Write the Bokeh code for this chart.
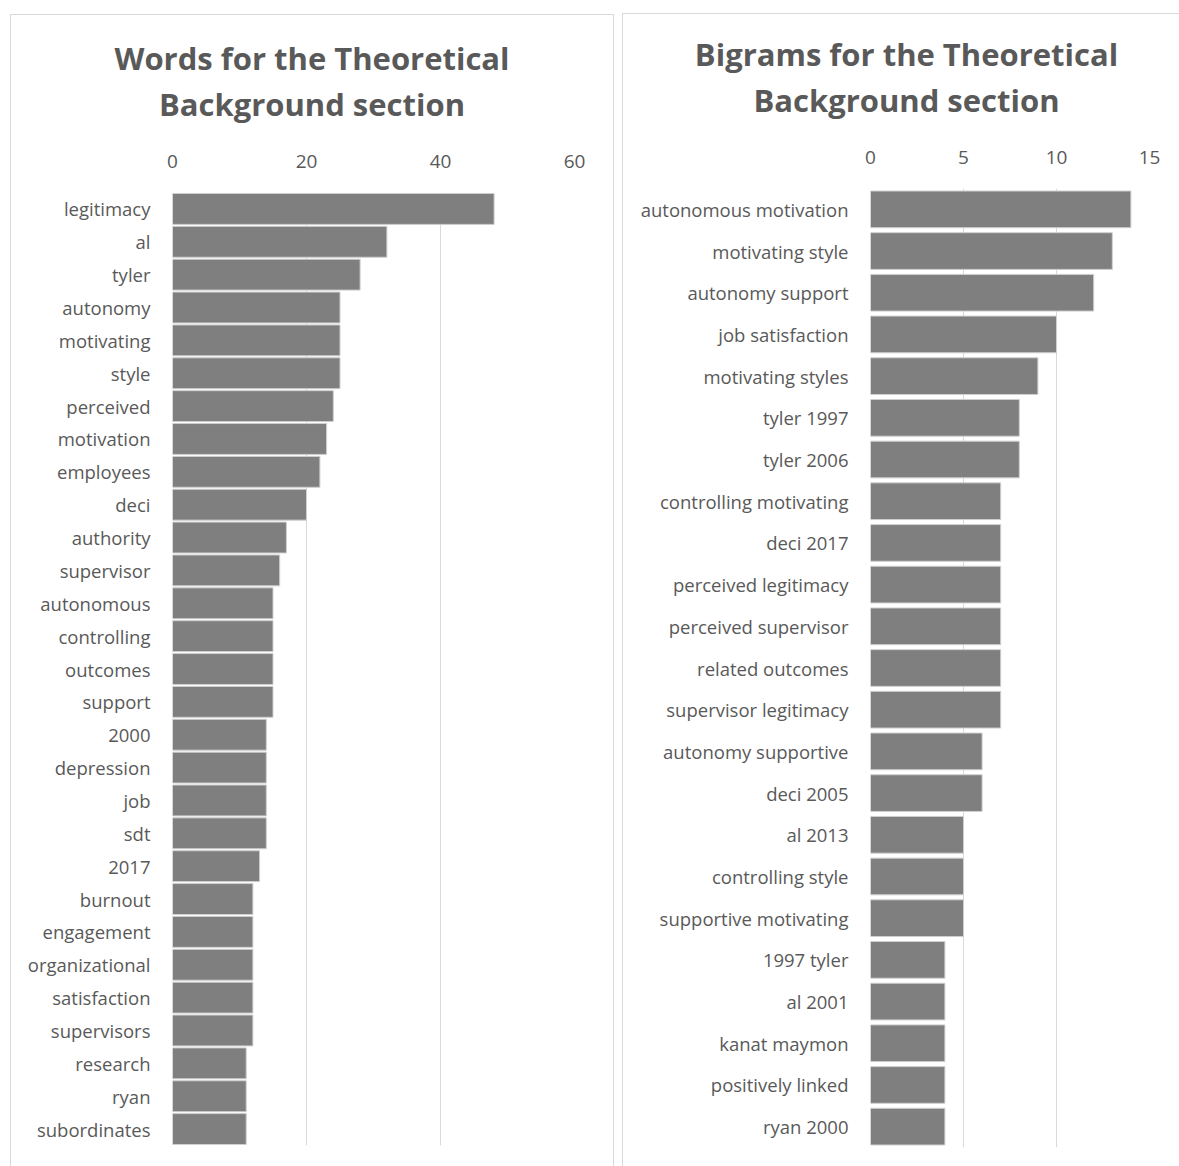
from bokeh.plotting import figure
from bokeh.layouts import row, column
from bokeh.models import FactorRange, Range1d, FixedTicker, Div
from bokeh.embed import file_html
from bokeh.resources import INLINE

# ---------------- data ----------------
word_labels = ["legitimacy", "al", "tyler", "autonomy", "motivating", "style", "perceived",
               "motivation", "employees", "deci", "authority", "supervisor", "autonomous",
               "controlling", "outcomes", "support", "2000", "depression", "job", "sdt", "2017",
               "burnout", "engagement", "organizational", "satisfaction", "supervisors",
               "research", "ryan", "subordinates"]
word_counts = [48, 32, 28, 25, 25, 25, 24, 23, 22, 20, 17, 16, 15, 15, 15, 15, 14, 14, 14, 14,
               13, 12, 12, 12, 12, 12, 11, 11, 11]
word_ticks = [0, 20, 40, 60]
word_title = ["Words for the Theoretical", "Background section"]

bigram_labels = ["autonomous motivation", "motivating style", "autonomy support",
                 "job satisfaction", "motivating styles", "tyler 1997", "tyler 2006",
                 "controlling motivating", "deci 2017", "perceived legitimacy",
                 "perceived supervisor", "related outcomes", "supervisor legitimacy",
                 "autonomy supportive", "deci 2005", "al 2013", "controlling style",
                 "supportive motivating", "1997 tyler", "al 2001", "kanat maymon",
                 "positively linked", "ryan 2000"]
bigram_counts = [14, 13, 12, 10, 9, 8, 8, 7, 7, 7, 7, 7, 7, 6, 6, 5, 5, 5, 4, 4, 4, 4, 4]
bigram_ticks = [0, 5, 10, 15]
bigram_title = ["Bigrams for the Theoretical", "Background section"]

TEXT = "#595959"
GRID = "#d9d9d9"
BAR = "#7f7f7f"
FONT = "Open Sans"
BORDER = "1px solid #d9d9d9"


def make_title(lines, width, inner_width, height, margin, pad_top, pad_left, borders):
    html = ("<div style=\"font-family:'Open Sans';font-weight:bold;font-size:31px;"
            f"color:{TEXT};text-align:center;line-height:46px;white-space:nowrap;"
            f"display:block;box-sizing:border-box;width:{inner_width}px;"
            f"padding-top:{pad_top}px;padding-left:{pad_left}px;\">"
            + "<br>".join(lines) + "</div>")
    styles = {"box-sizing": "border-box", "background": "white"}
    for b in borders:
        styles[f"border-{b}"] = BORDER
    return Div(text=html, width=width, height=height, margin=margin, styles=styles)


def make_chart(cats, vals, ticks, width, height, mb_left, mb_right, mb_top, mb_bottom,
               bar_h, borders):
    styles = {"box-sizing": "border-box"}
    for b in borders:
        styles[f"border-{b}"] = BORDER
    p = figure(width=width, height=height, output_backend="svg", toolbar_location=None,
               x_axis_location="above",
               x_range=Range1d(ticks[0], ticks[-1]),
               y_range=FactorRange(factors=list(reversed(cats))),
               min_border_left=mb_left, min_border_right=mb_right,
               min_border_top=mb_top, min_border_bottom=mb_bottom,
               margin=0, styles=styles)
    p.outline_line_color = None
    p.background_fill_color = "white"
    p.border_fill_color = "white"
    p.y_range.range_padding = 0

    p.hbar(y=cats, right=vals, left=0, height=bar_h,
           fill_color=BAR, line_color="#cfcfcf", line_width=1)

    p.xaxis.ticker = FixedTicker(ticks=ticks)
    p.xgrid.ticker = FixedTicker(ticks=ticks)
    p.xgrid.grid_line_color = GRID
    p.xgrid.grid_line_width = 1
    p.ygrid.grid_line_color = None

    for ax in (p.xaxis, p.yaxis):
        ax.axis_line_color = None
        ax.major_tick_line_color = None
        ax.minor_tick_line_color = None
        ax.major_label_text_color = TEXT
        ax.major_label_text_font = FONT
    p.xaxis.major_label_text_font_size = "19px"
    p.xaxis.major_label_standoff = 19
    p.yaxis.major_label_text_font_size = "18.5px"
    p.yaxis.major_label_standoff = 16
    return p


t1 = make_title(word_title, width=604, inner_width=602, height=121, margin=(14, 0, 0, 10),
                pad_top=20, pad_left=0, borders=["top", "left", "right"])
p1 = make_chart(word_labels, word_counts, word_ticks, width=604, height=1031,
                mb_left=161, mb_right=41, mb_top=57, mb_bottom=21, bar_h=0.94,
                borders=["left", "right"])
p1.margin = (0, 0, 0, 10)

t2 = make_title(bigram_title, width=557, inner_width=556, height=122, margin=(13, 0, 0, 8),
                pad_top=17, pad_left=11, borders=["top", "left"])
p2 = make_chart(bigram_labels, bigram_counts, bigram_ticks, width=557, height=1031,
                mb_left=247, mb_right=31, mb_top=53, mb_bottom=19, bar_h=0.88,
                borders=["left"])
p2.margin = (0, 0, 0, 8)

layout = row(column(t1, p1, spacing=0), column(t2, p2, spacing=0), spacing=0)
open("out.html", "w").write(file_html(layout, INLINE))
